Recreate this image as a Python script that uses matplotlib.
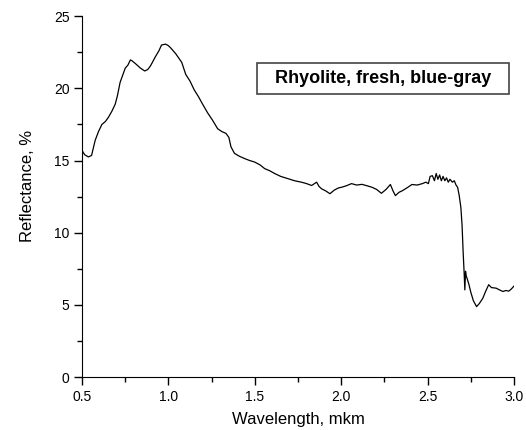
import numpy as np
import matplotlib.pyplot as plt
from matplotlib.ticker import MultipleLocator
from matplotlib.patches import Rectangle

plt.rcParams['font.family'] = ['Liberation Sans', 'DejaVu Sans']

# spectrum (wavelength in mkm, reflectance in %)
wl = [0.500, 0.515, 0.537, 0.555, 0.576, 0.595, 0.615, 0.635, 0.653, 0.672, 0.692, 0.705,
      0.720, 0.735, 0.750, 0.765, 0.780, 0.790, 0.810, 0.838, 0.863, 0.880, 0.896, 0.925,
      0.945, 0.960, 0.984, 1.000, 1.013, 1.042, 1.077, 1.100, 1.125, 1.149, 1.175, 1.198,
      1.227, 1.255, 1.285, 1.310, 1.333, 1.350, 1.362, 1.382, 1.410, 1.440, 1.470, 1.498,
      1.530, 1.557, 1.585, 1.615, 1.650, 1.693, 1.730, 1.770, 1.800, 1.829, 1.858, 1.872,
      1.887, 1.910, 1.935, 1.960, 1.984, 2.003, 2.030, 2.060, 2.090, 2.120, 2.150, 2.178,
      2.205, 2.233, 2.260, 2.285, 2.300, 2.314, 2.335, 2.353, 2.380, 2.410, 2.440, 2.470,
      2.490, 2.505, 2.515, 2.528, 2.540, 2.550, 2.560, 2.570, 2.580, 2.590, 2.600, 2.610,
      2.620, 2.630, 2.644, 2.655, 2.665, 2.674, 2.683, 2.693, 2.700, 2.706, 2.712, 2.716,
      2.720, 2.724, 2.730, 2.740, 2.750, 2.765, 2.784, 2.800, 2.820, 2.835, 2.854, 2.870,
      2.897, 2.915, 2.936, 2.955, 2.970, 2.985, 3.000]
refl = [15.7, 15.4, 15.25, 15.35, 16.4, 17.0, 17.5, 17.7, 18.0, 18.4, 18.9, 19.5,
        20.4, 20.9, 21.4, 21.6, 21.97, 21.9, 21.7, 21.4, 21.2, 21.3, 21.55, 22.2,
        22.6, 23.0, 23.06, 22.95, 22.8, 22.4, 21.8, 20.97, 20.5, 19.9, 19.4, 18.9,
        18.3, 17.8, 17.2, 17.0, 16.88, 16.6, 15.95, 15.5, 15.3, 15.14, 15.0, 14.9,
        14.7, 14.44, 14.3, 14.1, 13.9, 13.74, 13.6, 13.5, 13.4, 13.27, 13.5, 13.2,
        13.04, 12.9, 12.7, 12.95, 13.1, 13.15, 13.25, 13.4, 13.3, 13.35, 13.25, 13.15,
        13.0, 12.73, 13.0, 13.34, 12.9, 12.57, 12.8, 12.9, 13.1, 13.34, 13.3, 13.4,
        13.5, 13.4, 13.9, 13.95, 13.6, 14.1, 13.7, 14.0, 13.6, 13.9, 13.6, 13.8,
        13.5, 13.7, 13.5, 13.6, 13.3, 13.15, 12.6, 11.75, 10.5, 8.7, 7.2, 6.04,
        7.33, 7.0, 6.8, 6.4, 5.9, 5.3, 4.88, 5.1, 5.46, 5.9, 6.4, 6.2,
        6.16, 6.05, 5.93, 6.0, 5.95, 6.1, 6.3]

fig = plt.figure(figsize=(5.26, 4.30), dpi=100)
ax = fig.add_axes([0.156, 0.123, 0.821, 0.8395])

ax.plot(wl, refl, color='black', linewidth=0.9)

ax.set_xlim(0.5, 3.0)
ax.set_ylim(0, 25)
ax.xaxis.set_major_locator(MultipleLocator(0.5))
ax.xaxis.set_minor_locator(MultipleLocator(0.25))
ax.yaxis.set_major_locator(MultipleLocator(5))
ax.yaxis.set_minor_locator(MultipleLocator(2.5))
ax.xaxis.set_major_formatter(plt.FormatStrFormatter('%.1f'))

ax.spines['top'].set_visible(False)
ax.spines['right'].set_visible(False)
ax.tick_params(which='both', direction='out', labelsize=10, width=1)
ax.tick_params(which='major', length=5.5)
ax.tick_params(which='minor', length=3.5)
ax.tick_params(axis='x', which='major', pad=4)

ax.set_xlabel('Wavelength, mkm', fontsize=12)
ax.set_ylabel('Reflectance, %', fontsize=12)
ax.xaxis.set_label_coords(0.5, -0.098)
ax.yaxis.set_label_coords(-0.108, 0.53)

# label box in the upper right
ax.add_patch(Rectangle((0.405, 0.784), 0.583, 0.086, transform=ax.transAxes,
                       facecolor='white', edgecolor='#444444', linewidth=1.2, zorder=3))
ax.text(0.6965, 0.827, 'Rhyolite, fresh, blue-gray', transform=ax.transAxes,
        fontsize=13, fontweight='bold', ha='center', va='center', zorder=4)

plt.savefig('out.png', dpi=100)
